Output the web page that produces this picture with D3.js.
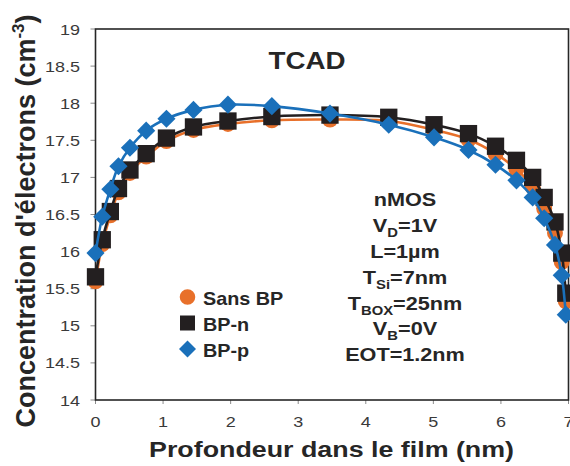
<!DOCTYPE html>
<html>
<head>
<meta charset="utf-8">
<script src="https://cdn.jsdelivr.net/npm/d3@7"></script>
<style>
  html, body { margin: 0; padding: 0; background: #fff; }
  svg { display: block; font-family: "Liberation Sans", Arial, sans-serif; }
</style>
</head>
<body>
<svg id="chart" width="570" height="466"></svg>
<script>
// ---- data ----
const depth = [0, 0.1, 0.22, 0.34, 0.51, 0.75, 1.05, 1.45, 1.96, 2.61, 3.47, 4.34, 5.01, 5.52, 5.92, 6.23, 6.47, 6.64, 6.8, 6.9, 6.96];
const sansBP = [15.60, 16.10, 16.49, 16.80, 17.06, 17.28, 17.49, 17.64, 17.72, 17.77, 17.78, 17.76, 17.64, 17.51, 17.32, 17.11, 16.87, 16.58, 16.25, 15.86, 15.33];
const bpN    = [15.66, 16.16, 16.54, 16.85, 17.10, 17.32, 17.53, 17.68, 17.76, 17.82, 17.84, 17.81, 17.71, 17.59, 17.42, 17.23, 17.00, 16.73, 16.40, 15.98, 15.44];
const bpP    = [15.98, 16.47, 16.84, 17.15, 17.40, 17.63, 17.79, 17.91, 17.98, 17.96, 17.86, 17.71, 17.54, 17.37, 17.17, 16.96, 16.73, 16.45, 16.09, 15.68, 15.15];
const seriesNames = ["Sans BP", "BP-n", "BP-p"];
const yTicks = [14, 14.5, 15, 15.5, 16, 16.5, 17, 17.5, 18, 18.5, 19];
const xTicks = [0, 1, 2, 3, 4, 5, 6, 7];
const annotation = [
  [["nMOS", 0]],
  [["V", 0], ["D", 1], ["=1V", 0]],
  [["L=1µm", 0]],
  [["T", 0], ["Si", 1], ["=7nm", 0]],
  [["T", 0], ["BOX", 1], ["=25nm", 0]],
  [["V", 0], ["B", 1], ["=0V", 0]],
  [["EOT=1.2nm", 0]]
];

(function () {
// ---- layout ----
const svg = d3.select("#chart");
const pL = 95.5, pR = 568.5, pT = 29, pB = 400;
const x = d3.scaleLinear().domain([0, 7]).range([pL, pR]);
const y = d3.scaleLinear().domain([14, 19]).range([pB, pT]);
const colors = ["#E8702A", "#231F20", "#1A70BA"];
const tickColor = "#3a3a3a";
const sx = 1.2;

// ticks
svg.append("g").selectAll("line").data(yTicks).join("line")
  .attr("x1", pL - 5).attr("x2", pL).attr("y1", d => y(d)).attr("y2", d => y(d))
  .attr("stroke", "#8a8a8a").attr("stroke-width", 1);
svg.append("g").selectAll("line").data(xTicks).join("line")
  .attr("x1", d => x(d)).attr("x2", d => x(d)).attr("y1", pB).attr("y2", pB + 4)
  .attr("stroke", "#8a8a8a").attr("stroke-width", 1);

// tick labels
svg.append("g").selectAll("text").data(yTicks).join("text")
  .attr("transform", d => `translate(80,${y(d) + 5.5}) scale(${sx},1)`)
  .attr("text-anchor", "end").attr("font-size", 15).attr("fill", tickColor)
  .text(d => d);
svg.append("g").selectAll("text").data(xTicks).join("text")
  .attr("transform", d => `translate(${x(d)},${426.5}) scale(${sx},1)`)
  .attr("text-anchor", "middle").attr("font-size", 15).attr("fill", tickColor)
  .text(d => d);

// frame
svg.append("rect").attr("x", pL).attr("y", pT).attr("width", pR - pL).attr("height", pB - pT)
  .attr("fill", "none").attr("stroke", "#262626").attr("stroke-width", 1.6);

// series
const allSeries = [sansBP, bpN, bpP];
const line = d3.line().x(d => x(d[0])).y(d => y(d[1])).curve(d3.curveCatmullRom.alpha(0.5));
const symbols = [d3.symbolCircle, d3.symbolSquare, d3.symbolSquare];
const rot = [0, 0, 45];
const sizes = [200, 300, 165];
allSeries.forEach((vals, i) => {
  const pts = depth.map((d, j) => [d, vals[j]]);
  const g = svg.append("g");
  g.append("path").attr("d", line(pts)).attr("fill", "none")
    .attr("stroke", colors[i]).attr("stroke-width", 2.6);
  g.selectAll("path.m").data(pts).join("path").attr("class", "m")
    .attr("transform", d => `translate(${x(d[0])},${y(d[1])}) rotate(${rot[i]})`)
    .attr("d", d3.symbol().type(symbols[i]).size(sizes[i]))
    .attr("fill", colors[i]);
});

// legend
const legY = [297, 323, 349];
const legSizes = [190, 225, 145];
seriesNames.forEach((name, i) => {
  svg.append("path").attr("transform", `translate(187.5,${legY[i]}) rotate(${rot[i]})`)
    .attr("d", d3.symbol().type(symbols[i]).size(legSizes[i])).attr("fill", colors[i]);
  svg.append("text").attr("transform", `translate(203,${legY[i] + 8}) scale(1.1,1)`)
    .attr("font-size", 18).attr("font-weight", "bold").attr("fill", "#262626").text(name);
});

// TCAD title
svg.append("text").attr("transform", `translate(307,68.5) scale(1.18,1)`)
  .attr("text-anchor", "middle").attr("font-size", 23.5).attr("font-weight", "bold")
  .attr("fill", "#262626").text("TCAD");

// annotation block
const annBase = [206, 232, 258, 284, 309.5, 335, 361];
annotation.forEach((segs, i) => {
  const t = svg.append("text").attr("transform", `translate(405,${annBase[i]}) scale(1.14,1)`)
    .attr("text-anchor", "middle").attr("font-size", 19).attr("font-weight", "bold").attr("fill", "#262626");
  segs.forEach(([s, sub], k) => {
    const ts = t.append("tspan").text(s);
    if (sub) ts.attr("font-size", 13).attr("dy", 5);
    else if (k > 0 && segs[k - 1][1]) ts.attr("dy", -5);
  });
});

// axis titles
svg.append("text").attr("transform", `translate(331.5,457) scale(1.22,1)`)
  .attr("text-anchor", "middle").attr("font-size", 22).attr("font-weight", "bold")
  .attr("fill", "#262626").text("Profondeur dans le film (nm)");

const yt = svg.append("text").attr("transform", `translate(35,221) rotate(-90)`)
  .attr("text-anchor", "middle").attr("font-size", 27).attr("font-weight", "bold").attr("fill", "#262626");
yt.append("tspan").text("Concentration d'électrons (cm");
yt.append("tspan").text("-3").attr("font-size", 17).attr("dy", -11);
yt.append("tspan").text(")").attr("dy", 11);
})();
</script>
</body>
</html>
